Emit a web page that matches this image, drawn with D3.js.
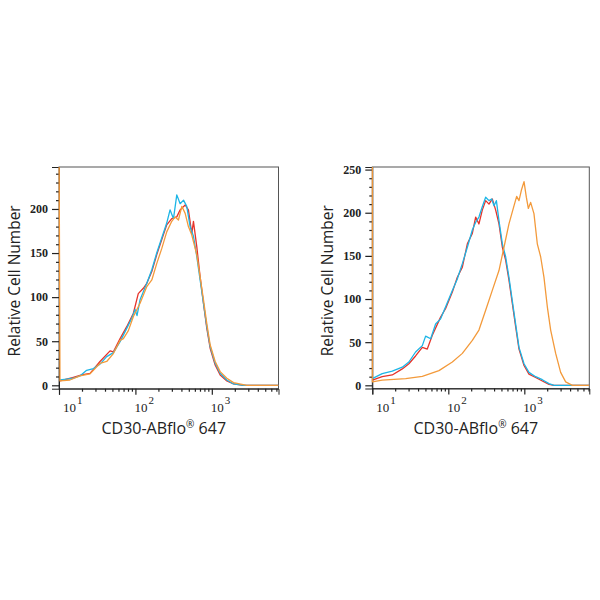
<!DOCTYPE html>
<html><head><meta charset="utf-8">
<script src="https://cdn.jsdelivr.net/npm/d3@7"></script>
<style>body{margin:0;background:#fff}svg{display:block}</style>
</head><body>
<svg id="c" width="600" height="600"></svg>
<script>
// ---------- DATA ----------
const yTicksLeft = [0, 50, 100, 150, 200];
const yTicksRight = [0, 50, 100, 150, 200, 250];
const xDecades = [10, 100, 1000];
const xDecadeExp = ["1", "2", "3"];
const xTitle = "CD30-ABflo";
const xTitleTail = " 647";
const yTitle = "Relative Cell Number";
const seriesNames = ["red", "blue", "orange"];

// Left panel
const L_red_x = [10.3,15.4,19.8,25.5,34.4,46.6,51.5,63,77,94.1,109,127,141,164,190,221,257,299,348,385,448,494,547,575,636,703,778,860,951,1106,1286,1573,1923,2600,7460];
const L_red_y = [5,9,11.7,13.6,27,39,38,53,66.5,81.7,104,110,115.7,129,148,165,182,189,191,199,204.5,199,172,186,157,123,93,64.6,42,23,11.7,5,1.5,0,0];
const L_blue_x = [10.3,12.6,15.4,18.8,23,28.2,34.4,42.1,51.5,63,77,89.5,99,105,115,141,164,190,221,257,284,315,348,385,426,470,520,575,636,703,778,860,951,1106,1286,1573,1923,2600,7460];
const L_blue_y = [6,7,8,10.6,17,19,24,32.5,37,49.5,64.6,76,86,79,97,115.7,131,150,167,184,199,189,216,206,210,203,180,169,146,119.5,93,66.5,44,25,13.6,6,1.5,0,0];
const L_orange_x = [10,10.3,13.9,18.8,25.5,34.4,42.1,51.5,63,69.6,80.9,94.1,115,141,164,190,221,257,299,331,366,405,448,494,547,636,703,778,860,951,1106,1286,1573,1923,2877,7460];
const L_orange_y = [300,5,6,10.6,13,25,27,36,51,53,62,78,93,112,119.5,138,155,174,186,191,187.5,203,195,180,170.5,148,123,97,70,46,27,15.5,8,3,0,0];

// Right panel
const R_red_x = [10,13.5,18.3,24.8,30.3,37.1,45.5,52.9,61.6,79.2,92.2,113,131,153,178,207,229,253,280,310,343,379,420,464,514,568,628,695,769,851,991,1151,1409,1725,2112,2457,7160];
const R_red_y = [6,10,12,19,25,34,44,42,58,79,89,108,125,137,164,176,195,187,203,214,210,216,203,187,160,145,122,95,68,42,23,13,9,5,1,0,0];
const R_blue_x = [10,13.5,18.3,24.8,30.3,37.1,45.5,50.3,58.6,68.1,79.2,92.2,113,131,153,178,207,229,253,280,310,343,372,399,429,464,514,568,628,695,769,851,991,1151,1409,1725,2112,2457,7160];
const R_blue_y = [7.7,13.5,16.5,21,27,38.6,46,57,54,71,77,91,110,123,141,160,180,189,195,207,218,214,216,208,214,191,164,149,125,98,71,44,25,15,10,6.5,2,0,0];
const R_orange_x = [10,10,13.5,27.5,45.5,75.3,113,153,207,253,310,379,464,540,628,731,793,851,914,991,1063,1129,1211,1339,1482,1640,1814,2008,2221,2585,3006,3500,4285,7160];
const R_orange_y = [300,4,6,7.7,10.4,17,27,37,52,64,87,110,133,160,187,208,219,214,226,236,218,205,212,199,164,149,125,91,64,37,15,4,0,0];

const colors = {red:"#e6332a", blue:"#1cb5e6", orange:"#f39a3b"};

// ---------- LAYOUT ----------
const panels = [
  {x0:59, x1:278.5, yTop:167, yBot:388.7, xMax:7460, yMin:-3.86, yMax:247.6, yTicks:yTicksLeft,
   series:{red:[L_red_x,L_red_y], blue:[L_blue_x,L_blue_y], orange:[L_orange_x,L_orange_y]}},
  {x0:372.3, x1:589.3, yTop:167, yBot:388.5, xMax:7160, yMin:-3.7, yMax:253, yTicks:yTicksRight,
   series:{red:[R_red_x,R_red_y], blue:[R_blue_x,R_blue_y], orange:[R_orange_x,R_orange_y]}}
];

const svg = d3.select("#c");
const serif = "'Liberation Serif','DejaVu Serif',serif";
const sans = "'Open Sans','Noto Sans',sans-serif";

panels.forEach((p, i) => {
  const x = d3.scaleLog().domain([10, p.xMax]).range([p.x0, p.x1]);
  const y = d3.scaleLinear().domain([p.yMin, p.yMax]).range([p.yBot, p.yTop]);
  const g = svg.append("g");

  const clipId = "clip" + i;
  svg.append("clipPath").attr("id", clipId).append("rect")
    .attr("x", p.x0 - 1).attr("y", p.yTop).attr("width", p.x1 - p.x0 + 1).attr("height", p.yBot - p.yTop);

  // frame
  g.append("rect").attr("x", p.x0).attr("y", p.yTop).attr("width", p.x1 - p.x0).attr("height", p.yBot - p.yTop)
    .attr("fill", "none").attr("stroke", "#555").attr("stroke-width", 1);

  // y axis
  const minorY = d3.range(0, p.yMax, 10).filter(v => v % 50 !== 0);
  const yMinor = d3.axisLeft(y).tickValues(minorY).tickSize(3).tickFormat("");
  const ga = g.append("g").attr("transform", `translate(${p.x0},0)`).call(yMinor);
  ga.select(".domain").remove();
  const yMajor = d3.axisLeft(y).tickValues(p.yTicks).tickSize(7).tickPadding(4);
  const gy = g.append("g").attr("transform", `translate(${p.x0},0)`).call(yMajor);
  gy.select(".domain").attr("stroke", "#222");
  gy.selectAll("text").attr("font-family", serif).attr("font-size", 12).attr("font-weight", "bold").attr("fill", "#222");

  // x axis
  const minorX = [];
  [10, 100, 1000].forEach(d => { for (let k = 2; k <= 9; k++) if (d * k < p.xMax) minorX.push(d * k); });
  const xMinorAx = d3.axisBottom(x).tickValues(minorX).tickSize(3).tickFormat("");
  const gxm = g.append("g").attr("transform", `translate(0,${p.yBot})`).call(xMinorAx);
  gxm.select(".domain").remove();
  const xMajorAx = d3.axisBottom(x).tickValues(xDecades).tickSize(6).tickFormat("");
  const gx = g.append("g").attr("transform", `translate(0,${p.yBot})`).call(xMajorAx);
  gx.select(".domain").attr("stroke", "#222");
  g.selectAll(".tick line").attr("stroke", "#222").attr("stroke-width", 1.2);

  xDecades.forEach((d, k) => {
    const tx = Math.max(x(d) - 1, p.x0 + 4);
    const t = g.append("text").attr("x", tx).attr("y", p.yBot + 23)
      .attr("font-family", serif).attr("font-size", 13).attr("fill", "#222");
    t.append("tspan").text("10");
    t.append("tspan").attr("dy", -8).attr("font-size", 11).attr("dx", 1).text(xDecadeExp[k]);
  });

  // curves (on top of axes)
  const line = d3.line().x(d => x(d[0])).y(d => y(d[1]));
  const lg = g.append("g").attr("clip-path", `url(#${clipId})`);
  seriesNames.forEach(n => {
    const [xs, ys] = p.series[n];
    const pts = xs.map((v, k) => [v, ys[k]]);
    lg.append("path").attr("d", line(pts)).attr("fill", "none")
      .attr("stroke", colors[n]).attr("stroke-width", 1.3).attr("stroke-linejoin", "round");
  });

  // titles
  const cx = (p.x0 + p.x1) / 2;
  const tt = g.append("text").attr("x", cx - 5).attr("y", p.yBot + 45).attr("text-anchor", "middle")
    .attr("font-family", sans).attr("font-size", 16).attr("fill", "#222");
  tt.append("tspan").text(xTitle);
  tt.append("tspan").attr("font-size", 10).attr("dy", -6).text("®");
  tt.append("tspan").attr("dy", 6).text(xTitleTail);

  g.append("text").attr("transform", `translate(${p.x0 - 39},${(p.yTop + p.yBot) / 2 + 3}) rotate(-90)`)
    .attr("text-anchor", "middle").attr("font-family", sans).attr("font-size", 15.5).attr("fill", "#222")
    .text(yTitle);
});
</script>
</body></html>
